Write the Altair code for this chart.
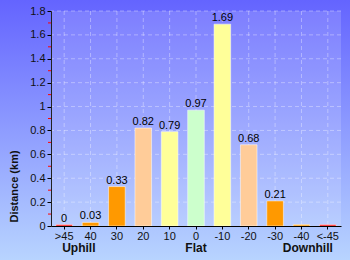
import altair as alt
import pandas as pd

categories = [">45", "40", "30", "20", "10", "0", "-10", "-20", "-30", "-40", "<-45"]
distances = [0.012, 0.03, 0.33, 0.82, 0.79, 0.97, 1.69, 0.68, 0.21, 0.012, 0.012]
value_labels = ["0", "0.03", "0.33", "0.82", "0.79", "0.97", "1.69", "0.68", "0.21", "", ""]
bar_colors = ["#ff0000", "#ff9900", "#ff9900", "#ffcc99", "#ffff99", "#ccffcc",
              "#ffff99", "#ffcc99", "#ff9900", "#ff9900", "#ff0000"]
y_ticks = [0, 0.2, 0.4, 0.6, 0.8, 1, 1.2, 1.4, 1.6, 1.8]
y_minor = [0.1, 0.3, 0.5, 0.7, 0.9, 1.1, 1.3, 1.5, 1.7]
group_names = ["Uphill", "Flat", "Downhill"]
group_cats = [">45", "0", "<-45"]

W, H = 290, 215
PL, PT, PR, PB = 51, 11, 9, 34

bars_df = pd.DataFrame({"cat": categories, "dist": distances,
                        "label": value_labels, "color": bar_colors})
hgrid_df = pd.DataFrame({"dist": y_ticks[1:]})
vgrid_df = pd.DataFrame({"cat": categories})
minor_df = pd.DataFrame({"dist": y_minor})
groups_df = pd.DataFrame({"cat": group_cats, "name": group_names})
one_df = pd.DataFrame({"k": [0]})

xscale = alt.Scale(domain=categories, paddingInner=0.37, paddingOuter=0.185)
yscale = alt.Scale(domain=[0, 1.8], nice=False)

x_enc = alt.X("cat:N", sort=categories, scale=xscale,
              axis=alt.Axis(title=None, labelAngle=0, labelFontSize=11, labelColor="#111",
                            tickColor="#000", tickSize=3, domainColor="#000",
                            labelPadding=1, grid=False, zindex=1))
y_main = alt.Y("dist:Q", scale=yscale,
               axis=alt.Axis(values=y_ticks, format="~g", title="Distance (km)",
                             titleFontSize=11, titleFontWeight="bold", titleColor="#111",
                             titleX=-37, titleY=175, titleAngle=270, titleAlign="center",
                             titleBaseline="middle", labelFontSize=11, labelColor="#111",
                             grid=False, tickSize=4, tickColor="#000", domainColor="#222",
                             labelPadding=2, orient="left", zindex=1))
y_noaxis = alt.Y("dist:Q", scale=yscale, axis=None)
y_zero = alt.YDatum(0, scale=yscale, axis=None)

grad_bg = alt.LinearGradient(gradient="linear", x1=0, y1=0, x2=0, y2=1,
                             stops=[alt.GradientStop(offset=0, color="#6464ff"),
                                    alt.GradientStop(offset=1, color="#b8d4ff")])

bg = alt.Chart(one_df).mark_rect(color=grad_bg).encode(
    x=alt.value(-PL), x2=alt.value(W + PR), y=alt.value(-PT), y2=alt.value(H + PB))
overlay = alt.Chart(one_df).mark_rect(color="#ffffff", opacity=0.15).encode(
    x=alt.value(0), x2=alt.value(W), y=alt.value(0), y2=alt.value(H))
hgrid = alt.Chart(hgrid_df).mark_rule(color="#ffffff", opacity=0.35, strokeDash=[4, 3]).encode(
    y=y_noaxis)
vgrid = alt.Chart(vgrid_df).mark_rule(color="#ffffff", opacity=0.35, strokeDash=[4, 3]).encode(
    x=x_enc)
bars = alt.Chart(bars_df).mark_bar(stroke="#ffffff", strokeWidth=1, strokeOpacity=0.5).encode(
    x=x_enc, y=y_main, color=alt.Color("color:N", scale=None))
labels = alt.Chart(bars_df).mark_text(baseline="bottom", dy=-1, fontSize=11, color="#000").encode(
    x=x_enc, y=y_noaxis, text="label:N")
minor = alt.Chart(minor_df).mark_rule(color="#ff0000", strokeWidth=1).encode(
    x=alt.value(-3), x2=alt.value(0), y=y_noaxis)

gstyle = dict(baseline="middle", fontSize=12, fontWeight="bold", color="#111", dy=22)
g_up = alt.Chart(groups_df[groups_df.name == "Uphill"]).mark_text(align="left", dx=-2, **gstyle).encode(
    x=x_enc, y=y_zero, text="name:N")
g_flat = alt.Chart(groups_df[groups_df.name == "Flat"]).mark_text(align="center", **gstyle).encode(
    x=x_enc, y=y_zero, text="name:N")
g_down = alt.Chart(groups_df[groups_df.name == "Downhill"]).mark_text(align="right", dx=5, **gstyle).encode(
    x=x_enc, y=y_zero, text="name:N")

chart = alt.layer(bg, overlay, hgrid, vgrid, bars, labels, g_up, g_flat, g_down, minor).resolve_axis(
    y="independent"
).properties(
    width=W, height=H,
    autosize=alt.AutoSizeParams(type="none"),
    padding={"left": PL, "top": PT, "right": PR, "bottom": PB},
).configure(
    font="Liberation Sans", background="#8a9aff"
).configure_view(stroke=None)

chart.save("out.html", embed_options={"renderer": "svg", "actions": False})
